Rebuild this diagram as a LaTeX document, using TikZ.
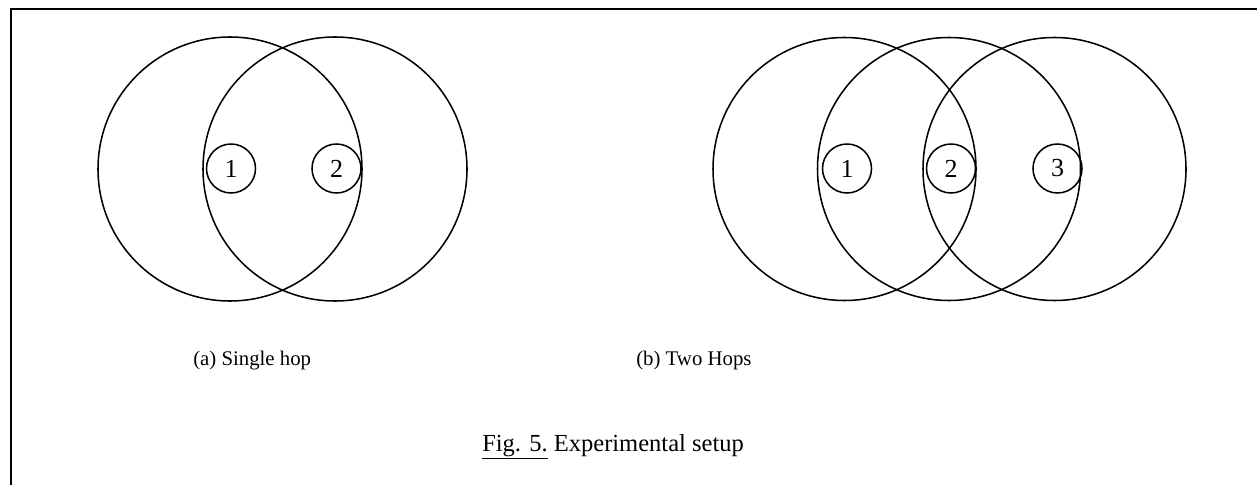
\documentclass[tikz,border=0pt]{standalone}
\usepackage{fontspec}
\setmainfont{Liberation Serif}
\begin{document}
\begin{tikzpicture}[x=0.75pt,y=-0.75pt,
  radiorange/.style={line width=1.15pt},
  station/.style={circle,draw,line width=1.15pt,minimum size=36.75pt,inner sep=0pt,
    font=\fontsize{19.5}{21}\selectfont},
  subcap/.style={anchor=base west,inner sep=0pt,font=\fontsize{15.6}{18}\selectfont},
  figcap/.style={anchor=base west,inner sep=0pt,font=\fontsize{18.4}{21}\selectfont}]
\useasboundingbox (0,0) rectangle (1257,485);
% frame
\coordinate (fbl) at (11,485);
\coordinate (ftl) at (11,9.5);
\coordinate (ftr) at (1257,9.5);
\draw[line width=1.5pt] (fbl) -- (ftl) -- (ftr);
% (a) single hop: two radio ranges
\draw[radiorange] (230,169) circle[radius=132];
\draw[radiorange] (335,169) circle[radius=132];
\node[station] (a1) at (231,168.5) {1};
\node[station] (a2) at (336.5,168.5) {2};
% (b) two hops: three radio ranges
\draw[radiorange] (844.5,169) circle[radius=131.5];
\draw[radiorange] (949,169) circle[radius=131.5];
\draw[radiorange] (1054.5,169) circle[radius=131.5];
\node[station] (b1) at (847,168.5) {1};
\node[station] (b2) at (951,168.5) {2};
\node[station] (b3) at (1057.5,168.5) {3};
% captions
\node[subcap] (capa) at (193,365) {(a) Single hop};
\node[subcap] (capb) at (636,365) {(b) Two Hops};
\node[figcap] (capfig) at (482,451) {\underline{Fig. 5.} Experimental setup};
\end{tikzpicture}
\end{document}
